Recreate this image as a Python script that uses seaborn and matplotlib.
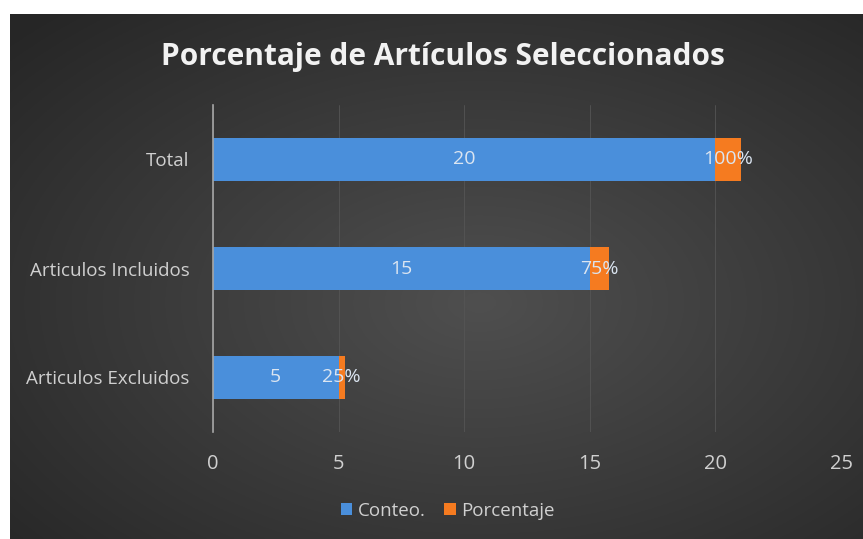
import numpy as np
import pandas as pd
import matplotlib
matplotlib.use("Agg")
import matplotlib.pyplot as plt
import seaborn as sns
from matplotlib.patches import Patch

categorias = ["Total", "Articulos Incluidos", "Articulos Excluidos"]
conteo = [20, 15, 5]
porcentaje = [1.00, 0.75, 0.25]
etiquetas_pct = ["100%", "75%", "25%"]
ticks_x = [0, 5, 10, 15, 20, 25]

azul = "#4a8fdb"
naranja = "#f57b20"
texto = "#d0d0d0"

df = pd.DataFrame({"cat": categorias, "conteo": conteo, "pct": porcentaje})
df["total"] = df["conteo"] + df["pct"]

sns.set_style("dark")
plt.rcParams["font.family"] = ["Open Sans", "DejaVu Sans"]

fig = plt.figure(figsize=(8.63, 5.39), dpi=100)
fig.patch.set_facecolor("white")

# fondo con degradado radial
bg = fig.add_axes([10 / 863, 0, 853 / 863, 525 / 539])
yy, xx = np.mgrid[0:1:300j, 0:1:480j]
r = np.sqrt(((xx - 0.55) / 0.75) ** 2 + ((yy - 0.55) / 0.75) ** 2)
r = np.clip(r, 0, 1)
grad = 0.31 - 0.16 * r
bg.imshow(np.dstack([grad, grad, grad]), aspect="auto", extent=[0, 1, 0, 1])
bg.set_axis_off()

ax = fig.add_axes([213 / 863, 107 / 539, 628 / 863, 327 / 539])
ax.patch.set_alpha(0)

sns.barplot(data=df, x="total", y="cat", color=naranja, width=0.4,
            saturation=1, ax=ax, orient="h", linewidth=0)
sns.barplot(data=df, x="conteo", y="cat", color=azul, width=0.4,
            saturation=1, ax=ax, orient="h", linewidth=0)

for i, row in df.iterrows():
    ax.text(row["conteo"] / 2, i, str(row["conteo"]), ha="center", va="center",
            color="#dbe5f1", fontsize=14)
    ax.text(row["conteo"] + row["pct"] / 2, i, etiquetas_pct[i], ha="center",
            va="center", color="#dbe5f1", fontsize=14)

ax.set_xlim(0, 25)
ax.set_ylim(2.5, -0.5)
ax.set_xticks(ticks_x)
ax.xaxis.grid(True, color="#555555", linewidth=0.6)
ax.yaxis.grid(False)
ax.set_axisbelow(True)
for s in ["top", "right", "bottom"]:
    ax.spines[s].set_visible(False)
ax.spines["left"].set_color("#a6a6a6")
ax.spines["left"].set_linewidth(1.2)
ax.tick_params(axis="x", length=0, pad=16, labelsize=14.5, labelcolor=texto)
ax.tick_params(axis="y", length=0, pad=17, labelsize=13.5, labelcolor=texto)
ax.set_xlabel("")
ax.set_ylabel("")

fig.text(0.513, 1 - 57 / 539, "Porcentaje de Artículos Seleccionados", ha="center",
         va="center", color="#f2f2f2", fontsize=21.5, fontweight="bold")

handles = [Patch(facecolor=azul, edgecolor="none", label="Conteo."),
           Patch(facecolor=naranja, edgecolor="none", label="Porcentaje")]
leg = fig.legend(handles=handles, loc="center", bbox_to_anchor=(0.519, 1 - 511 / 539),
                 ncol=2, frameon=False, fontsize=13.5, handlelength=0.6, handleheight=0.6,
                 handletextpad=0.3, columnspacing=1.0)
for t in leg.get_texts():
    t.set_color(texto)

fig.savefig("out.png", dpi=100)
